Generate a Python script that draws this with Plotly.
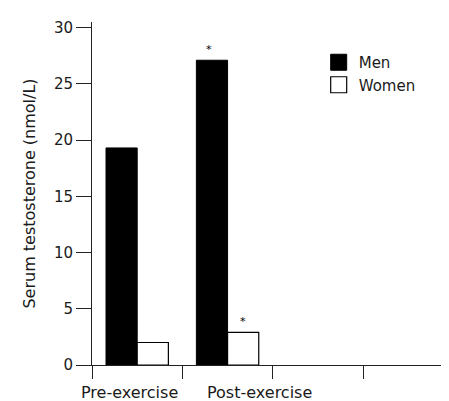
import plotly.graph_objects as go

categories = ["Pre-exercise", "Post-exercise"]
men = [19.3, 27.1]
women = [2.0, 2.9]
significant_men = [False, True]
significant_women = [False, True]
y_ticks = [0, 5, 10, 15, 20, 25, 30]

FONT = "DejaVu Sans, Liberation Sans, Arial, sans-serif"
TXT = "#1a1a1a"

xpos = list(range(len(categories)))

fig = go.Figure()
fig.add_trace(go.Bar(x=xpos, y=men, name="Men", legendgroup="men", showlegend=False,
                     marker=dict(color="black", line=dict(color="black", width=1))))
fig.add_trace(go.Bar(x=xpos, y=women, name="Women", legendgroup="women", showlegend=False,
                     marker=dict(color="white", line=dict(color="black", width=1.2))))
# legend entries with larger square swatches
fig.add_trace(go.Scatter(x=[None], y=[None], mode="markers", name="Men", legendgroup="men",
                         marker=dict(symbol="square", size=16, color="black",
                                     line=dict(color="black", width=1))))
fig.add_trace(go.Scatter(x=[None], y=[None], mode="markers", name="Women", legendgroup="women",
                         marker=dict(symbol="square", size=16, color="white",
                                     line=dict(color="black", width=1.2))))

annotations = []
label_offsets = [-0.08, 0.35]
for i, c in enumerate(categories):
    annotations.append(dict(x=xpos[i] + label_offsets[i], y=0, xref="x", yref="paper",
                            text=c, showarrow=False, yanchor="top", yshift=-16,
                            font=dict(family=FONT, size=16, color=TXT)))
for i in range(len(categories)):
    if significant_men[i]:
        annotations.append(dict(x=xpos[i] - 0.2, y=men[i], xref="x", yref="y", text="*",
                                showarrow=False, yanchor="bottom", yshift=2,
                                font=dict(family=FONT, size=11, color="black")))
    if significant_women[i]:
        annotations.append(dict(x=xpos[i] + 0.17, y=women[i], xref="x", yref="y", text="*",
                                showarrow=False, yanchor="bottom", yshift=2,
                                font=dict(family=FONT, size=11, color="black")))

# page body has an 8px margin; figure is sized to fit the 449x401 window
fig.update_layout(
    width=441, height=393,
    margin=dict(l=84, r=0, t=14, b=36),
    paper_bgcolor="white", plot_bgcolor="white",
    barmode="group", bargap=0.31, bargroupgap=0,
    showlegend=True,
    legend=dict(x=0.635, y=0.93, xanchor="left", yanchor="top",
                font=dict(family=FONT, size=15, color=TXT),
                bgcolor="rgba(0,0,0,0)", itemsizing="trace",
                tracegroupgap=0),
    font=dict(family=FONT, size=13, color=TXT),
    annotations=annotations,
    xaxis=dict(range=[-0.5, 3.45], tickvals=[-0.5, 0.5, 1.5, 2.5], ticktext=["", "", "", ""],
               ticks="outside", ticklen=13, tickcolor="#222", tickwidth=1,
               showline=True, linecolor="#222", linewidth=1, showgrid=False, zeroline=False),
    yaxis=dict(range=[0, 30.5], tickvals=y_ticks, ticks="outside", ticklen=15,
               tickcolor="#222", tickwidth=1, showline=True, linecolor="#222", linewidth=1,
               showgrid=False, zeroline=False,
               title=dict(text="Serum testosterone (nmol/L)", standoff=14,
                          font=dict(family=FONT, size=16, color=TXT)),
               tickfont=dict(family=FONT, size=15, color=TXT)),
)

fig.write_html("out.html")
